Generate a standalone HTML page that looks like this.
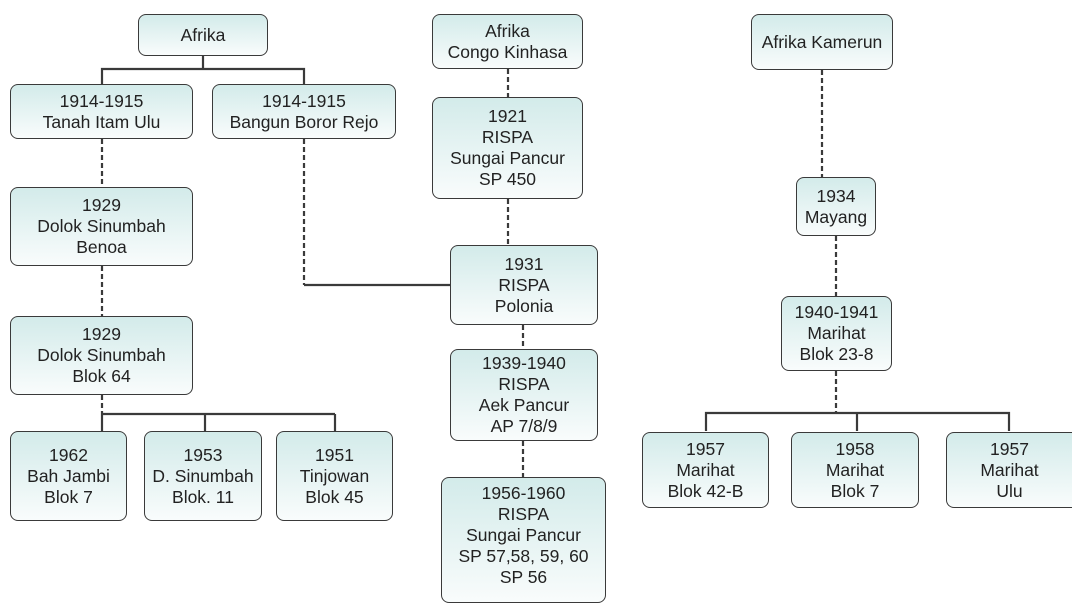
<!DOCTYPE html><html><head><style>
body{margin:0;width:1072px;height:593px;background:#fff;position:relative;overflow:hidden;font-family:"Liberation Sans",sans-serif}
.b{position:absolute;box-sizing:border-box;border:1.6px solid #3a3a3a;border-radius:8px;background:linear-gradient(#d3ebea,#f9fcfc);display:flex;align-items:center;justify-content:center;text-align:center;font-size:17.5px;line-height:21px;color:#222;white-space:nowrap}
svg{position:absolute;left:0;top:0}
</style></head><body>
<svg width="1072" height="593">
<g stroke="#3a3a3a" stroke-width="2.2" fill="none">
<path d="M203 56V69M102 84V69H304V84M304 285H450M102 414H335M102 414V431M205 414V431M335 414V431M706 431V413H1009V431M857 413V431"/>
<g stroke-dasharray="5,3"><path d="M102 139V187M102 266V316M102 395V414M304 139V285M508 69V97M508 199V245M523 325V349M523 441V477M822 70V177M836 236V296M836 371V413"/></g>
</g></svg>
<div class="b" style="left:138px;top:14px;width:130px;height:42px">Afrika</div>
<div class="b" style="left:10px;top:84px;width:183px;height:55px">1914-1915<br>Tanah Itam Ulu</div>
<div class="b" style="left:212px;top:84px;width:184px;height:55px">1914-1915<br>Bangun Boror Rejo</div>
<div class="b" style="left:10px;top:187px;width:183px;height:79px">1929<br>Dolok Sinumbah<br>Benoa</div>
<div class="b" style="left:10px;top:316px;width:183px;height:79px">1929<br>Dolok Sinumbah<br>Blok 64</div>
<div class="b" style="left:10px;top:431px;width:117px;height:90px">1962<br>Bah Jambi<br>Blok 7</div>
<div class="b" style="left:144px;top:431px;width:118px;height:90px">1953<br>D. Sinumbah<br>Blok. 11</div>
<div class="b" style="left:276px;top:431px;width:117px;height:90px">1951<br>Tinjowan<br>Blok 45</div>
<div class="b" style="left:432px;top:14px;width:151px;height:55px">Afrika<br>Congo Kinhasa</div>
<div class="b" style="left:432px;top:97px;width:151px;height:102px">1921<br>RISPA<br>Sungai Pancur<br>SP 450</div>
<div class="b" style="left:450px;top:245px;width:148px;height:80px">1931<br>RISPA<br>Polonia</div>
<div class="b" style="left:450px;top:349px;width:148px;height:92px">1939-1940<br>RISPA<br>Aek Pancur<br>AP 7/8/9</div>
<div class="b" style="left:441px;top:477px;width:165px;height:126px;padding-bottom:10px">1956-1960<br>RISPA<br>Sungai Pancur<br>SP 57,58, 59, 60<br>SP 56</div>
<div class="b" style="left:751px;top:14px;width:142px;height:56px">Afrika Kamerun</div>
<div class="b" style="left:796px;top:177px;width:80px;height:59px">1934<br>Mayang</div>
<div class="b" style="left:781px;top:296px;width:111px;height:75px">1940-1941<br>Marihat<br>Blok 23-8</div>
<div class="b" style="left:642px;top:432px;width:127px;height:76px">1957<br>Marihat<br>Blok 42-B</div>
<div class="b" style="left:791px;top:432px;width:128px;height:76px">1958<br>Marihat<br>Blok 7</div>
<div class="b" style="left:946px;top:432px;width:126px;height:76px;border-right:none;border-radius:8px 0 0 8px">1957<br>Marihat<br>Ulu</div>
</body></html>
